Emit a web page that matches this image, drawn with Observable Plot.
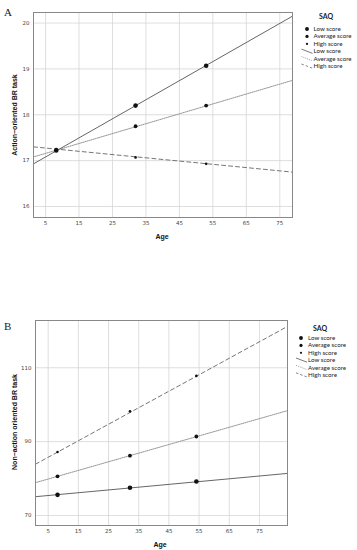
<!DOCTYPE html>
<html>
<head>
<meta charset="utf-8">
<script src="https://cdn.jsdelivr.net/npm/d3@7"></script>
<script src="https://cdn.jsdelivr.net/npm/@observablehq/plot@0.6"></script>
<style>
  body { margin: 0; background: #fff; }
  #wrap { position: relative; width: 357px; height: 550px; overflow: hidden; font-family: "Lato", sans-serif; }
  #wrap svg.plot { position: absolute; left: 0; }
  .abs { position: absolute; white-space: nowrap; line-height: 1; }
  .panel { font-family: "Liberation Serif", serif; font-size: 11px; color: #222; }
  .ttl { font-family: "Liberation Sans", sans-serif; font-weight: bold; font-size: 7px; color: #111; }
  .lg { font-family: "Lato", sans-serif; font-size: 6.2px; color: #222; }
  .lgh { font-family: "Lato", sans-serif; font-size: 7px; font-weight: bold; color: #222; }
</style>
</head>
<body>
<div id="wrap"></div>
<script>
// ---- Data ----
const groups = ["Low score", "Average score", "High score"];
// Panel A: Action-oriented BR task
const agesA = [8.2, 31.9, 53];
const lowA = [17.22, 18.2, 19.07];
const avgA = [17.23, 17.75, 18.2];
const highA = [17.25, 17.07, 16.93];
const lineAgesA = [1.4, 78.8];
const lowLineA = [16.93, 20.15];
const avgLineA = [17.08, 18.75];
const highLineA = [17.3, 16.75];
const xTicks = [5, 15, 25, 35, 45, 55, 65, 75];
const yTicksA = [16, 17, 18, 19, 20];
// Panel B: Non-action oriented BR task
const agesB = [8.1, 32.1, 54.1];
const lowB = [75.6, 77.5, 79.2];
const avgB = [80.6, 86.2, 91.4];
const highB = [87.2, 98.2, 107.8];
const lineAgesB = [0.8, 84.3];
const lowLineB = [75.1, 81.4];
const avgLineB = [78.9, 98.4];
const highLineB = [83.9, 121.2];
const yTicksB = [70, 90, 110];

const styles = {
  "Low score": {stroke: "#555", dash: null, r: 2.3, sw: 0.9},
  "Average score": {stroke: "#888", dash: "1,1", r: 1.9, sw: 0.9},
  "High score": {stroke: "#666", dash: "4,3", r: 1.3, sw: 0.9}
};

function build(ages, series, lineAges, lineSeries) {
  const pts = [], lines = [];
  groups.forEach((g, gi) => {
    ages.forEach((a, i) => pts.push({g, age: a, v: series[gi][i]}));
    lineAges.forEach((a, i) => lines.push({g, age: a, v: lineSeries[gi][i]}));
  });
  return {pts, lines};
}

function panel(cfg) {
  const {pts, lines} = build(cfg.ages, cfg.series, cfg.lineAges, cfg.lineSeries);
  const marks = [
    Plot.gridX(xTicks, {stroke: "#d6d6d6", strokeOpacity: 1, strokeWidth: 0.8}),
    Plot.gridY(cfg.yTicks, {stroke: "#d6d6d6", strokeOpacity: 1, strokeWidth: 0.8}),
    Plot.axisX(xTicks, {tickSize: 0, tickPadding: 4, fontSize: 5.5, fill: "#444", label: null, fontFamily: "DejaVu Sans"}),
    Plot.axisY(cfg.yTicks, {tickSize: 0, tickPadding: 4, fontSize: 5.5, fill: "#444", label: null, fontFamily: "DejaVu Sans"})
  ];
  groups.slice().reverse().forEach(g => {
    const s = styles[g];
    marks.push(Plot.line(lines.filter(d => d.g === g), {x: "age", y: "v", stroke: s.stroke, strokeWidth: s.sw, strokeDasharray: s.dash, clip: true}));
  });
  groups.forEach(g => {
    const s = styles[g];
    marks.push(Plot.dot(pts.filter(d => d.g === g), {x: "age", y: "v", r: s.r, fill: "#111", stroke: "none"}));
  });
  marks.push(Plot.frame({stroke: "#888", strokeWidth: 1}));
  const svg = Plot.plot({
    width: 357, height: cfg.height,
    marginLeft: cfg.ml, marginRight: cfg.mr, marginTop: cfg.mt, marginBottom: cfg.mb,
    x: {domain: cfg.lineAges, ticks: xTicks},
    y: {domain: cfg.yDomain},
    style: {background: "transparent", overflow: "visible"},
    marks
  });
  svg.classList.add("plot");
  svg.style.top = cfg.top + "px";
  return svg;
}

const wrap = document.getElementById("wrap");
wrap.appendChild(panel({
  ages: agesA, series: [lowA, avgA, highA], lineAges: lineAgesA, lineSeries: [lowLineA, avgLineA, highLineA],
  yTicks: yTicksA, yDomain: [15.76, 20.23], height: 245, top: 0, ml: 33, mr: 65, mt: 12, mb: 28
}));
wrap.appendChild(panel({
  ages: agesB, series: [lowB, avgB, highB], lineAges: lineAgesB, lineSeries: [lowLineB, avgLineB, highLineB],
  yTicks: yTicksB, yDomain: [67.3, 122.8], height: 250, top: 300, ml: 35, mr: 70, mt: 20, mb: 25
}));

function addText(txt, cls, x, y, anchor, rotate) {
  const d = document.createElement("div");
  d.className = "abs " + cls;
  d.textContent = txt;
  d.style.left = x + "px";
  d.style.top = y + "px";
  let tx = anchor === "middle" ? "-50%" : "0";
  d.style.transform = `translate(${tx}, -50%)` + (rotate ? ` rotate(${rotate}deg)` : "");
  wrap.appendChild(d);
  return d;
}

addText("A", "panel", 4, 12, "start");
addText("B", "panel", 4, 326, "start");
addText("Age", "ttl", 162, 235.5, "middle");
addText("Age", "ttl", 160, 544, "middle");
addText("Action\u2212oriented BR task", "ttl", 14, 114.5, "middle", -90);
addText("Non\u2212action oriented BR task", "ttl", 14, 422, "middle", -90);

function legend(x0, yTitle, xMarker, xText, yRow0, step) {
  addText("SAQ", "lgh", x0, yTitle, "middle");
  const ns = "http://www.w3.org/2000/svg";
  const svg = document.createElementNS(ns, "svg");
  svg.setAttribute("width", 357); svg.setAttribute("height", 550);
  svg.style.position = "absolute"; svg.style.left = "0"; svg.style.top = "0";
  groups.forEach((g, i) => {
    const y = yRow0 + i * step;
    const c = document.createElementNS(ns, "circle");
    c.setAttribute("cx", xMarker); c.setAttribute("cy", y); c.setAttribute("r", styles[g].r * 0.85);
    c.setAttribute("fill", "#111");
    svg.appendChild(c);
    addText(g, "lg", xText, y, "start");
  });
  groups.forEach((g, i) => {
    const y = yRow0 + (i + 3) * step;
    const l = document.createElementNS(ns, "line");
    l.setAttribute("x1", xText - 12); l.setAttribute("y1", y - 2.2);
    l.setAttribute("x2", xText - 1); l.setAttribute("y2", y + 2);
    l.setAttribute("stroke", styles[g].stroke); l.setAttribute("stroke-width", 0.8);
    if (styles[g].dash) l.setAttribute("stroke-dasharray", styles[g].dash === "4,3" ? "2.5,2" : "1,1");
    svg.appendChild(l);
    addText(g, "lg", xText, y, "start");
  });
  wrap.appendChild(svg);
}
legend(326, 15.5, 307, 313.5, 29, 7.45);
legend(320, 328, 301, 308, 338, 7.4);
</script>
</body>
</html>
